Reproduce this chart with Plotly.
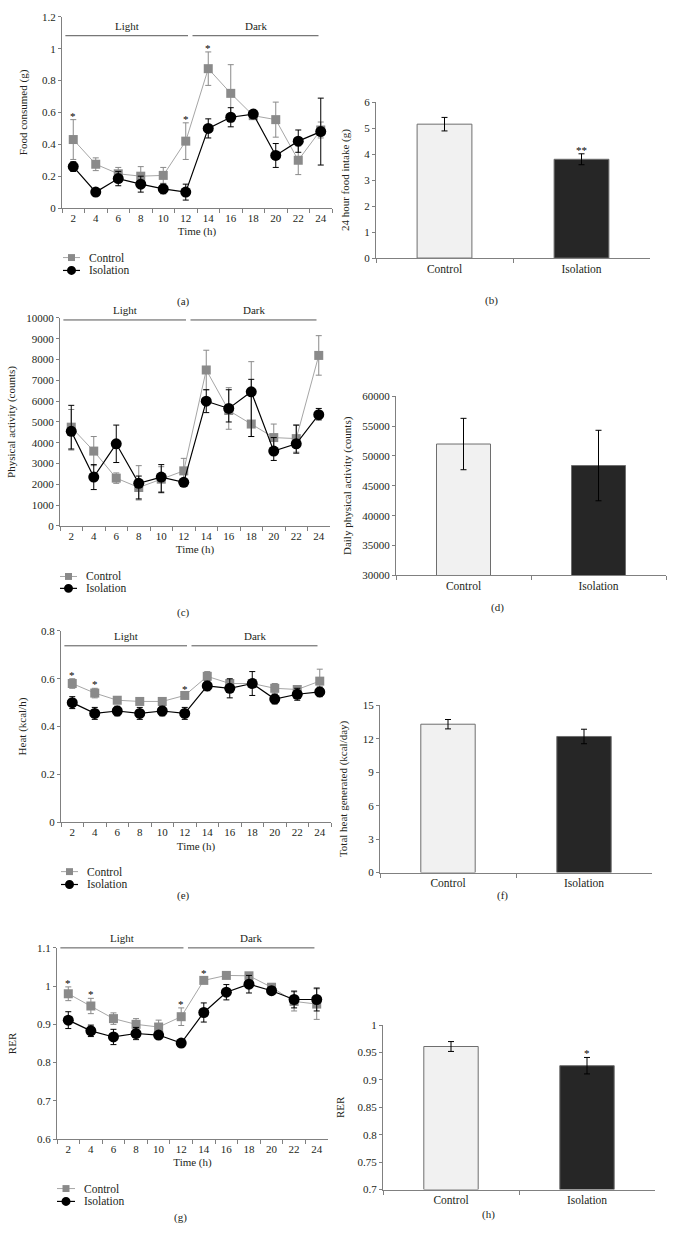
import plotly.graph_objects as go

W, H = 674, 1252
FONT = "Liberation Serif, DejaVu Serif, serif"
TXT = "#231f20"
AX = "#808080"
CTRL_MK = "#8a8a8a"
CTRL_LN = "#a6a6a6"
ISO = "#000000"

hours = ["2", "4", "6", "8", "10", "12", "14", "16", "18", "20", "22", "24"]
groups = ["Control", "Isolation"]

# (a) food consumed per 2 h
food_ctrl = [0.43, 0.275, 0.215, 0.20, 0.205, 0.42, 0.875, 0.72, 0.58, 0.555, 0.30, 0.49]
food_ctrl_err = [0.125, 0.04, 0.04, 0.06, 0.05, 0.115, 0.105, 0.18, 0.02, 0.11, 0.09, 0.05]
food_iso = [0.26, 0.10, 0.185, 0.15, 0.12, 0.10, 0.50, 0.57, 0.59, 0.33, 0.42, 0.48]
food_iso_err = [0.03, 0.015, 0.045, 0.05, 0.03, 0.05, 0.06, 0.06, 0.02, 0.075, 0.07, 0.21]
food_sig = ["*", "", "", "", "", "*", "*", "", "", "", "", ""]

# (b) 24 h food intake
food_total = [5.15, 3.8]
food_total_err = [0.26, 0.21]
food_total_sig = ["", "**"]

# (c) physical activity
act_ctrl = [4750, 3600, 2300, 1850, 2250, 2650, 7500, 5550, 4900, 4250, 4200, 8200]
act_ctrl_plus = [850, 700, 250, 1050, 600, 600, 950, 1100, 3000, 650, 650, 950]
act_ctrl_minus = [1100, 700, 250, 600, 600, 600, 950, 900, 600, 650, 650, 950]
act_iso = [4550, 2350, 3950, 2050, 2350, 2100, 6000, 5650, 6450, 3600, 3950, 5350]
act_iso_plus = [1250, 600, 900, 350, 600, 150, 550, 900, 600, 650, 900, 300]
act_iso_minus = [850, 600, 900, 750, 750, 150, 550, 650, 2150, 450, 450, 250]
act_sig = ["", "", "", "", "", "", "", "", "", "", "", ""]

# (d) daily physical activity
act_total = [52000, 48400]
act_total_err = [4300, 5900]
act_total_sig = ["", ""]

# (e) heat
heat_ctrl = [0.58, 0.54, 0.51, 0.505, 0.505, 0.53, 0.61, 0.58, 0.58, 0.56, 0.555, 0.59]
heat_ctrl_err = [0.02, 0.02, 0.01, 0.008, 0.008, 0.01, 0.02, 0.01, 0.01, 0.02, 0.01, 0.05]
heat_iso = [0.50, 0.455, 0.465, 0.455, 0.465, 0.455, 0.57, 0.56, 0.58, 0.515, 0.535, 0.545]
heat_iso_err = [0.025, 0.025, 0.02, 0.025, 0.02, 0.025, 0.02, 0.04, 0.05, 0.02, 0.025, 0.02]
heat_sig = ["*", "*", "", "", "", "*", "", "", "", "", "", ""]

# (f) total heat
heat_total = [13.3, 12.2]
heat_total_err = [0.42, 0.65]
heat_total_sig = ["", ""]

# (g) RER
rer_ctrl = [0.98, 0.948, 0.915, 0.90, 0.893, 0.92, 1.015, 1.028, 1.027, 0.997, 0.96, 0.953]
rer_ctrl_err = [0.018, 0.02, 0.015, 0.015, 0.018, 0.023, 0.008, 0.005, 0.005, 0.01, 0.025, 0.04]
rer_iso = [0.911, 0.883, 0.867, 0.876, 0.872, 0.851, 0.931, 0.984, 1.005, 0.988, 0.965, 0.965]
rer_iso_err = [0.022, 0.015, 0.02, 0.016, 0.008, 0.008, 0.025, 0.02, 0.023, 0.01, 0.022, 0.03]
rer_sig = ["*", "*", "", "", "", "*", "*", "", "", "", "", ""]

# (h) mean RER
rer_total = [0.961, 0.926]
rer_total_err = [0.009, 0.015]
rer_total_sig = ["", "*"]

legend_labels = ["Control", "Isolation"]
period_labels = ["Light", "Dark"]


def xd(x0, x1):
    return [x0 / W, x1 / W]


def yd(top, bottom):
    return [1 - bottom / H, 1 - top / H]


def px(x):
    return x / W


def py(y):
    return 1 - y / H


fig = go.Figure()
annotations = []
shapes = []

tickfont = dict(family=FONT, size=11, color=TXT)
titlefont = dict(family=FONT, size=11, color=TXT)


def add_legend(x0, x1, xt, y_c, y_i):
    shapes.append(dict(type="line", xref="paper", yref="paper", x0=px(x0), x1=px(x1),
                       y0=py(y_c), y1=py(y_c), line=dict(color=CTRL_LN, width=1)))
    xm = (x0 + x1) / 2
    shapes.append(dict(type="rect", xref="paper", yref="paper", x0=px(xm - 3.5), x1=px(xm + 3.5),
                       y0=py(y_c + 3.5), y1=py(y_c - 3.5), fillcolor=CTRL_MK,
                       line=dict(width=0)))
    shapes.append(dict(type="line", xref="paper", yref="paper", x0=px(x0), x1=px(x1),
                       y0=py(y_i), y1=py(y_i), line=dict(color=ISO, width=1.2)))
    shapes.append(dict(type="circle", xref="paper", yref="paper", x0=px(xm - 4.5), x1=px(xm + 4.5),
                       y0=py(y_i + 4.5), y1=py(y_i - 4.5), fillcolor=ISO, line=dict(width=0)))
    for lab, yy in zip(legend_labels, [y_c, y_i]):
        annotations.append(dict(xref="paper", yref="paper", x=px(xt), y=py(yy), text=lab,
                                xanchor="left", yanchor="middle", showarrow=False,
                                font=dict(family=FONT, size=11.5, color=TXT)))


def line_panel(n, xdom, ydom, yrange, dtick, ytitle, ystand, ctrl, ctrl_p, ctrl_m, iso, iso_p, iso_m,
               sig, band_px, leg, panel_label, tfmt=""):
    xa = "x" + ("" if n == 1 else str(n))
    ya = "y" + ("" if n == 1 else str(n))
    fig.add_trace(go.Scatter(
        x=hours, y=ctrl, mode="lines+markers", name="Control", xaxis=xa, yaxis=ya,
        line=dict(color=CTRL_LN, width=1),
        marker=dict(symbol="square", size=9, color=CTRL_MK),
        error_y=dict(type="data", array=ctrl_p, arrayminus=ctrl_m, symmetric=False,
                     color=CTRL_MK, thickness=1, width=3),
        showlegend=False))
    fig.add_trace(go.Scatter(
        x=hours, y=iso, mode="lines+markers", name="Isolation", xaxis=xa, yaxis=ya,
        line=dict(color=ISO, width=1.2),
        marker=dict(symbol="circle", size=11, color=ISO),
        error_y=dict(type="data", array=iso_p, arrayminus=iso_m, symmetric=False,
                     color=ISO, thickness=1, width=3),
        showlegend=False))
    key = "" if n == 1 else str(n)
    fig.update_layout(**{
        "xaxis" + key: dict(domain=xdom, anchor=ya, type="category", tickson="boundaries",
                            ticks="outside", ticklen=4, tickcolor=AX, showline=True,
                            linecolor=AX, linewidth=1, showgrid=False, zeroline=False,
                            tickfont=tickfont, range=[-0.5, 11.5],
                            title=dict(text="Time (h)", font=titlefont, standoff=4)),
        "yaxis" + key: dict(domain=ydom, anchor=xa, range=yrange, dtick=dtick,
                            ticks="outside", ticklen=3, tickcolor=AX, showline=True,
                            linecolor=AX, linewidth=1, showgrid=False, zeroline=False,
                            tickformat=tfmt, tickfont=tickfont,
                            title=dict(text=ytitle, font=titlefont, standoff=ystand)),
    })
    for (x0, x1), label in zip([(-0.35, 5.1), (5.3, 10.9)], period_labels):
        shapes.append(dict(type="line", xref=xa, yref="paper", x0=x0, x1=x1,
                           y0=py(band_px), y1=py(band_px), line=dict(color="#555555", width=1)))
        annotations.append(dict(xref=xa, yref="paper", x=(x0 + x1) / 2, y=py(band_px - 2),
                                yanchor="bottom", text=label, showarrow=False,
                                font=dict(family=FONT, size=11, color=TXT)))
    for i, s in enumerate(sig):
        if s:
            annotations.append(dict(xref=xa, yref=ya, x=i, y=ctrl[i] + ctrl_p[i],
                                    text=s, showarrow=False, yanchor="bottom", yshift=-4,
                                    font=dict(family=FONT, size=11, color="#000000")))
    add_legend(*leg)
    annotations.append(dict(xref="paper", yref="paper", x=px(panel_label[1]),
                            y=py(panel_label[2]), text=panel_label[0], showarrow=False,
                            font=dict(family=FONT, size=11, color=TXT)))


def bar_panel(n, xdom, ydom, yrange, dtick, ytitle, ystand, vals, errs, sig, panel_label, tfmt=""):
    xa = "x" + str(n)
    ya = "y" + str(n)
    base = yrange[0]
    fig.add_trace(go.Bar(
        x=groups, y=[v - base for v in vals], base=base, xaxis=xa, yaxis=ya, width=0.4,
        showlegend=False,
        marker=dict(color=["#f1f1f1", "#262626"], line=dict(color="#6e6e6e", width=1)),
        error_y=dict(type="data", array=errs, color="#000000", thickness=1, width=3)))
    fig.update_layout(**{
        "xaxis" + str(n): dict(domain=xdom, anchor=ya, type="category", tickson="boundaries",
                               ticks="outside", ticklen=4, tickcolor=AX, showline=True,
                               linecolor=AX, linewidth=1, showgrid=False, zeroline=False,
                               tickfont=dict(family=FONT, size=11.5, color=TXT),
                               range=[-0.5, 1.5]),
        "yaxis" + str(n): dict(domain=ydom, anchor=xa, range=yrange, dtick=dtick,
                               ticks="outside", ticklen=3, tickcolor=AX, showline=True,
                               linecolor=AX, linewidth=1, showgrid=False, zeroline=False,
                               tickformat=tfmt, tickfont=tickfont,
                               title=dict(text=ytitle, font=titlefont, standoff=ystand)),
    })
    for i, s in enumerate(sig):
        if s:
            annotations.append(dict(xref=xa, yref=ya, x=i, y=vals[i] + errs[i],
                                    text=s, showarrow=False, yanchor="bottom", yshift=-4,
                                    font=dict(family=FONT, size=11, color="#000000")))
    annotations.append(dict(xref="paper", yref="paper", x=px(panel_label[1]),
                            y=py(panel_label[2]), text=panel_label[0], showarrow=False,
                            font=dict(family=FONT, size=11, color=TXT)))


line_panel(1, xd(62, 332), yd(11, 204), [0, 1.2], 0.2, "Food consumed (g)", 12,
           food_ctrl, food_ctrl_err, food_ctrl_err, food_iso, food_iso_err, food_iso_err,
           food_sig, 30, (63, 80, 87, 254, 267), ("(a)", 175, 290))
bar_panel(2, xd(376, 650), yd(97, 254.5), [0, 6], 1, "24 hour food intake (g)", 12,
          food_total, food_total_err, food_total_sig, ("(b)", 500, 289))
line_panel(3, xd(60, 330), yd(315, 525), [0, 10000], 1000, "Physical activity (counts)", 8,
           act_ctrl, act_ctrl_plus, act_ctrl_minus, act_iso, act_iso_plus, act_iso_minus,
           act_sig, 317, (60, 77, 84, 576, 588), ("(c)", 175, 612), tfmt="d")
bar_panel(4, xd(396, 666), yd(394, 575), [30000, 60000], 5000, "Daily physical activity (counts)", 8,
          act_total, act_total_err, act_total_sig, ("(d)", 506, 607), tfmt="d")
line_panel(5, xd(61, 331), yd(631, 824), [0, 0.8], 0.2, "Heat (kcal/h)", 12,
           heat_ctrl, heat_ctrl_err, heat_ctrl_err, heat_iso, heat_iso_err, heat_iso_err,
           heat_sig, 646, (61, 78, 85, 874, 887), ("(e)", 175, 907))
bar_panel(6, xd(380, 652), yd(706, 875), [0, 15], 3, "Total heat generated (kcal/day)", 12,
          heat_total, heat_total_err, heat_total_sig, ("(f)", 510, 907))
line_panel(7, xd(57, 328), yd(951, 1144), [0.6, 1.1], 0.1, "RER", 18,
           rer_ctrl, rer_ctrl_err, rer_ctrl_err, rer_iso, rer_iso_err, rer_iso_err,
           rer_sig, 951, (57, 75, 82, 1194, 1207), ("(g)", 172, 1232))
bar_panel(8, xd(383, 655), yd(1029, 1195), [0.7, 1.0], 0.05, "RER", 10,
          rer_total, rer_total_err, rer_total_sig, ("(h)", 497, 1229))

fig.update_layout(width=W, height=H, margin=dict(l=0, r=0, t=0, b=0),
                  paper_bgcolor="white", plot_bgcolor="white",
                  annotations=annotations, shapes=shapes,
                  font=dict(family=FONT, color=TXT), showlegend=False)
fig.write_html("out.html", config={"displayModeBar": False},
               post_script="document.body.style.margin='0';")
